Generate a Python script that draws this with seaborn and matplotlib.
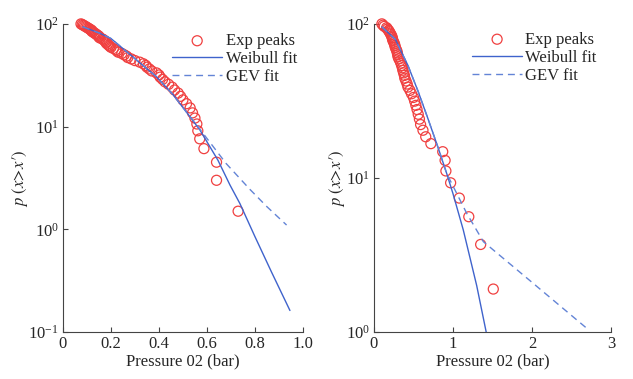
import numpy as np
import pandas as pd
import seaborn as sns
import matplotlib
matplotlib.use("Agg")
import matplotlib.pyplot as plt
from matplotlib.ticker import LogLocator, NullLocator

# left panel: exp peaks (sorted pressures vs exceedance %)
left_x = [0.075, 0.08, 0.085, 0.09, 0.095, 0.10, 0.105, 0.11, 0.115, 0.12, 0.12,
          0.125, 0.13, 0.135, 0.14, 0.145, 0.15, 0.15, 0.155, 0.165, 0.17, 0.175,
          0.18, 0.18, 0.185, 0.19, 0.195, 0.20, 0.21, 0.22, 0.225, 0.23, 0.245,
          0.255, 0.265, 0.27, 0.285, 0.30, 0.32, 0.335, 0.345, 0.35, 0.36, 0.37,
          0.39, 0.40, 0.405, 0.415, 0.425, 0.44, 0.455, 0.465, 0.48, 0.49, 0.50,
          0.515, 0.53, 0.54, 0.55, 0.558, 0.562, 0.57, 0.5875, 0.64, 0.64, 0.73]
left_p = [100.0, 98.5, 97.0, 95.5, 93.9, 92.4, 90.9, 89.4, 87.9, 86.4, 84.8,
          83.3, 81.8, 80.3, 78.8, 77.3, 75.8, 74.2, 72.7, 71.2, 69.7, 68.2,
          66.7, 65.2, 63.6, 62.1, 60.6, 59.1, 57.6, 56.1, 54.5, 53.0, 51.5,
          50.0, 48.5, 47.0, 45.5, 43.9, 42.4, 40.9, 39.4, 37.9, 36.4, 34.8,
          33.3, 31.8, 30.3, 28.8, 27.3, 25.8, 24.2, 22.7, 21.2, 19.7, 18.2,
          16.7, 15.2, 13.6, 12.1, 10.6, 9.1, 7.6, 6.1, 4.5, 3.0, 1.5]

left_weib_x = [0.083, 0.154, 0.20, 0.29, 0.39, 0.46, 0.515, 0.571, 0.646, 0.696,
               0.7375, 0.80, 0.87, 0.946]
left_weib_p = [93.5, 81.0, 72.0, 48.0, 30.5, 20.3, 13.8, 9.25, 4.7, 2.7,
               1.78, 0.85, 0.38, 0.162]
left_gev_x = [0.083, 0.154, 0.20, 0.29, 0.39, 0.46, 0.515, 0.55, 0.583, 0.68,
              0.779, 0.85, 0.932]
left_gev_p = [93.5, 81.0, 72.0, 48.0, 30.5, 20.3, 13.8, 10.9, 8.65, 4.37,
              2.45, 1.66, 1.1]

# right panel
right_x = [0.100, 0.115, 0.13, 0.16, 0.17, 0.185, 0.195, 0.205, 0.215, 0.225,
           0.23, 0.235, 0.24, 0.25, 0.26, 0.265, 0.27, 0.28, 0.29, 0.295, 0.30,
           0.305, 0.315, 0.33, 0.34, 0.35, 0.36, 0.365, 0.375, 0.385, 0.39,
           0.405, 0.42, 0.43, 0.455, 0.475, 0.50, 0.515, 0.53, 0.545, 0.56,
           0.575, 0.59, 0.62, 0.655, 0.72, 0.87, 0.90, 0.91, 0.97, 1.08, 1.20,
           1.35, 1.51]
right_p = [100.0, 98.1, 96.3, 94.4, 92.6, 90.7, 88.9, 87.0, 85.2, 83.3, 81.5,
           79.6, 77.8, 75.9, 74.1, 72.2, 70.4, 68.5, 66.7, 64.8, 63.0, 61.1,
           59.3, 57.4, 55.6, 53.7, 51.9, 50.0, 48.1, 46.3, 44.4, 42.6, 40.7,
           38.9, 37.0, 35.2, 33.3, 31.5, 29.6, 27.8, 25.9, 24.1, 22.2, 20.4,
           18.5, 16.7, 14.8, 13.0, 11.1, 9.3, 7.4, 5.6, 3.7, 1.9]

right_weib_x = [0.10, 0.27, 0.43, 0.56, 0.68, 0.81, 0.92, 1.0, 1.13, 1.30, 1.42]
right_weib_p = [95.5, 79.4, 53.7, 36.3, 24.5, 15.8, 10.7, 7.9, 4.6, 2.0, 1.0]
right_gev_x = [0.10, 0.27, 0.43, 0.56, 0.68, 0.81, 0.92, 0.984, 1.173, 1.384,
               2.0, 2.69]
right_gev_p = [95.5, 79.4, 53.7, 36.3, 24.5, 15.8, 10.7, 9.2, 5.9, 3.86,
               2.1, 1.06]

sns.set_style("ticks")
plt.rcParams["font.family"] = ["Liberation Serif", "DejaVu Serif"]
plt.rcParams["mathtext.fontset"] = "stix"
plt.rcParams["xtick.direction"] = "in"
plt.rcParams["ytick.direction"] = "in"

red = "#f04040"
blue = "#3f63cc"
blue2 = "#6384d6"
fs = 12

fig = plt.figure(figsize=(6.33, 3.79), dpi=100)
ax1 = fig.add_axes([0.0995, 0.124, 0.379, 0.813])
ax2 = fig.add_axes([0.5908, 0.124, 0.3745, 0.813])

panels = [
    (ax1, left_x, left_p, left_weib_x, left_weib_p, left_gev_x, left_gev_p),
    (ax2, right_x, right_p, right_weib_x, right_weib_p, right_gev_x, right_gev_p),
]

for ax, px, pp, wx, wp, gx, gp in panels:
    pts = pd.DataFrame({"x": px, "p": pp})
    weib = pd.DataFrame({"x": wx, "p": wp})
    gev = pd.DataFrame({"x": gx, "p": gp})
    sns.scatterplot(data=pts, x="x", y="p", ax=ax, marker="o", s=52,
                    facecolor="none", edgecolor=red, linewidth=0.9,
                    label="Exp peaks", zorder=2, clip_on=False)
    sns.lineplot(data=weib, x="x", y="p", ax=ax, color=blue, linewidth=1.0,
                 estimator=None, sort=False, label="Weibull fit", zorder=3)
    sns.lineplot(data=gev, x="x", y="p", ax=ax, color=blue2, linewidth=1.0,
                 estimator=None, sort=False, dashes=False, label="GEV fit",
                 zorder=3)
    ax.lines[-1].set_dashes([5, 3.5])
    ax.set_yscale("log")
    ax.yaxis.set_major_locator(LogLocator(base=10))
    ax.yaxis.set_minor_locator(NullLocator())
    ax.set_xlabel("Pressure 02 (bar)", fontsize=fs, labelpad=1)
    ax.set_ylabel(r"$p\ (x\!>\!x\prime)$", fontsize=fs, labelpad=-1)
    ax.tick_params(labelsize=fs, length=3.5, width=0.8, color="#444444", pad=3)
    for s in ["top", "right"]:
        ax.spines[s].set_visible(False)
    for s in ["left", "bottom"]:
        ax.spines[s].set_color("#444444")
        ax.spines[s].set_linewidth(0.8)

ax1.set_xlim(0, 1.0)
ax1.set_ylim(0.1, 100)
ax1.set_xticks([0, 0.2, 0.4, 0.6, 0.8, 1.0])
ax1.set_xticklabels(["0", "0.2", "0.4", "0.6", "0.8", "1.0"])

ax2.set_xlim(0, 3)
ax2.set_ylim(1, 100)
ax2.set_xticks([0, 1, 2, 3])
ax2.set_xticklabels(["0", "1", "2", "3"])

for ax, anchor in [(ax1, (0.975, 0.97)), (ax2, (0.94, 0.975))]:
    ax.legend(loc="upper right", bbox_to_anchor=anchor, frameon=False,
              fontsize=fs, handlelength=3.0, handletextpad=0.2,
              labelspacing=0.12, borderpad=0, borderaxespad=0)

fig.savefig("out.png", dpi=100)
